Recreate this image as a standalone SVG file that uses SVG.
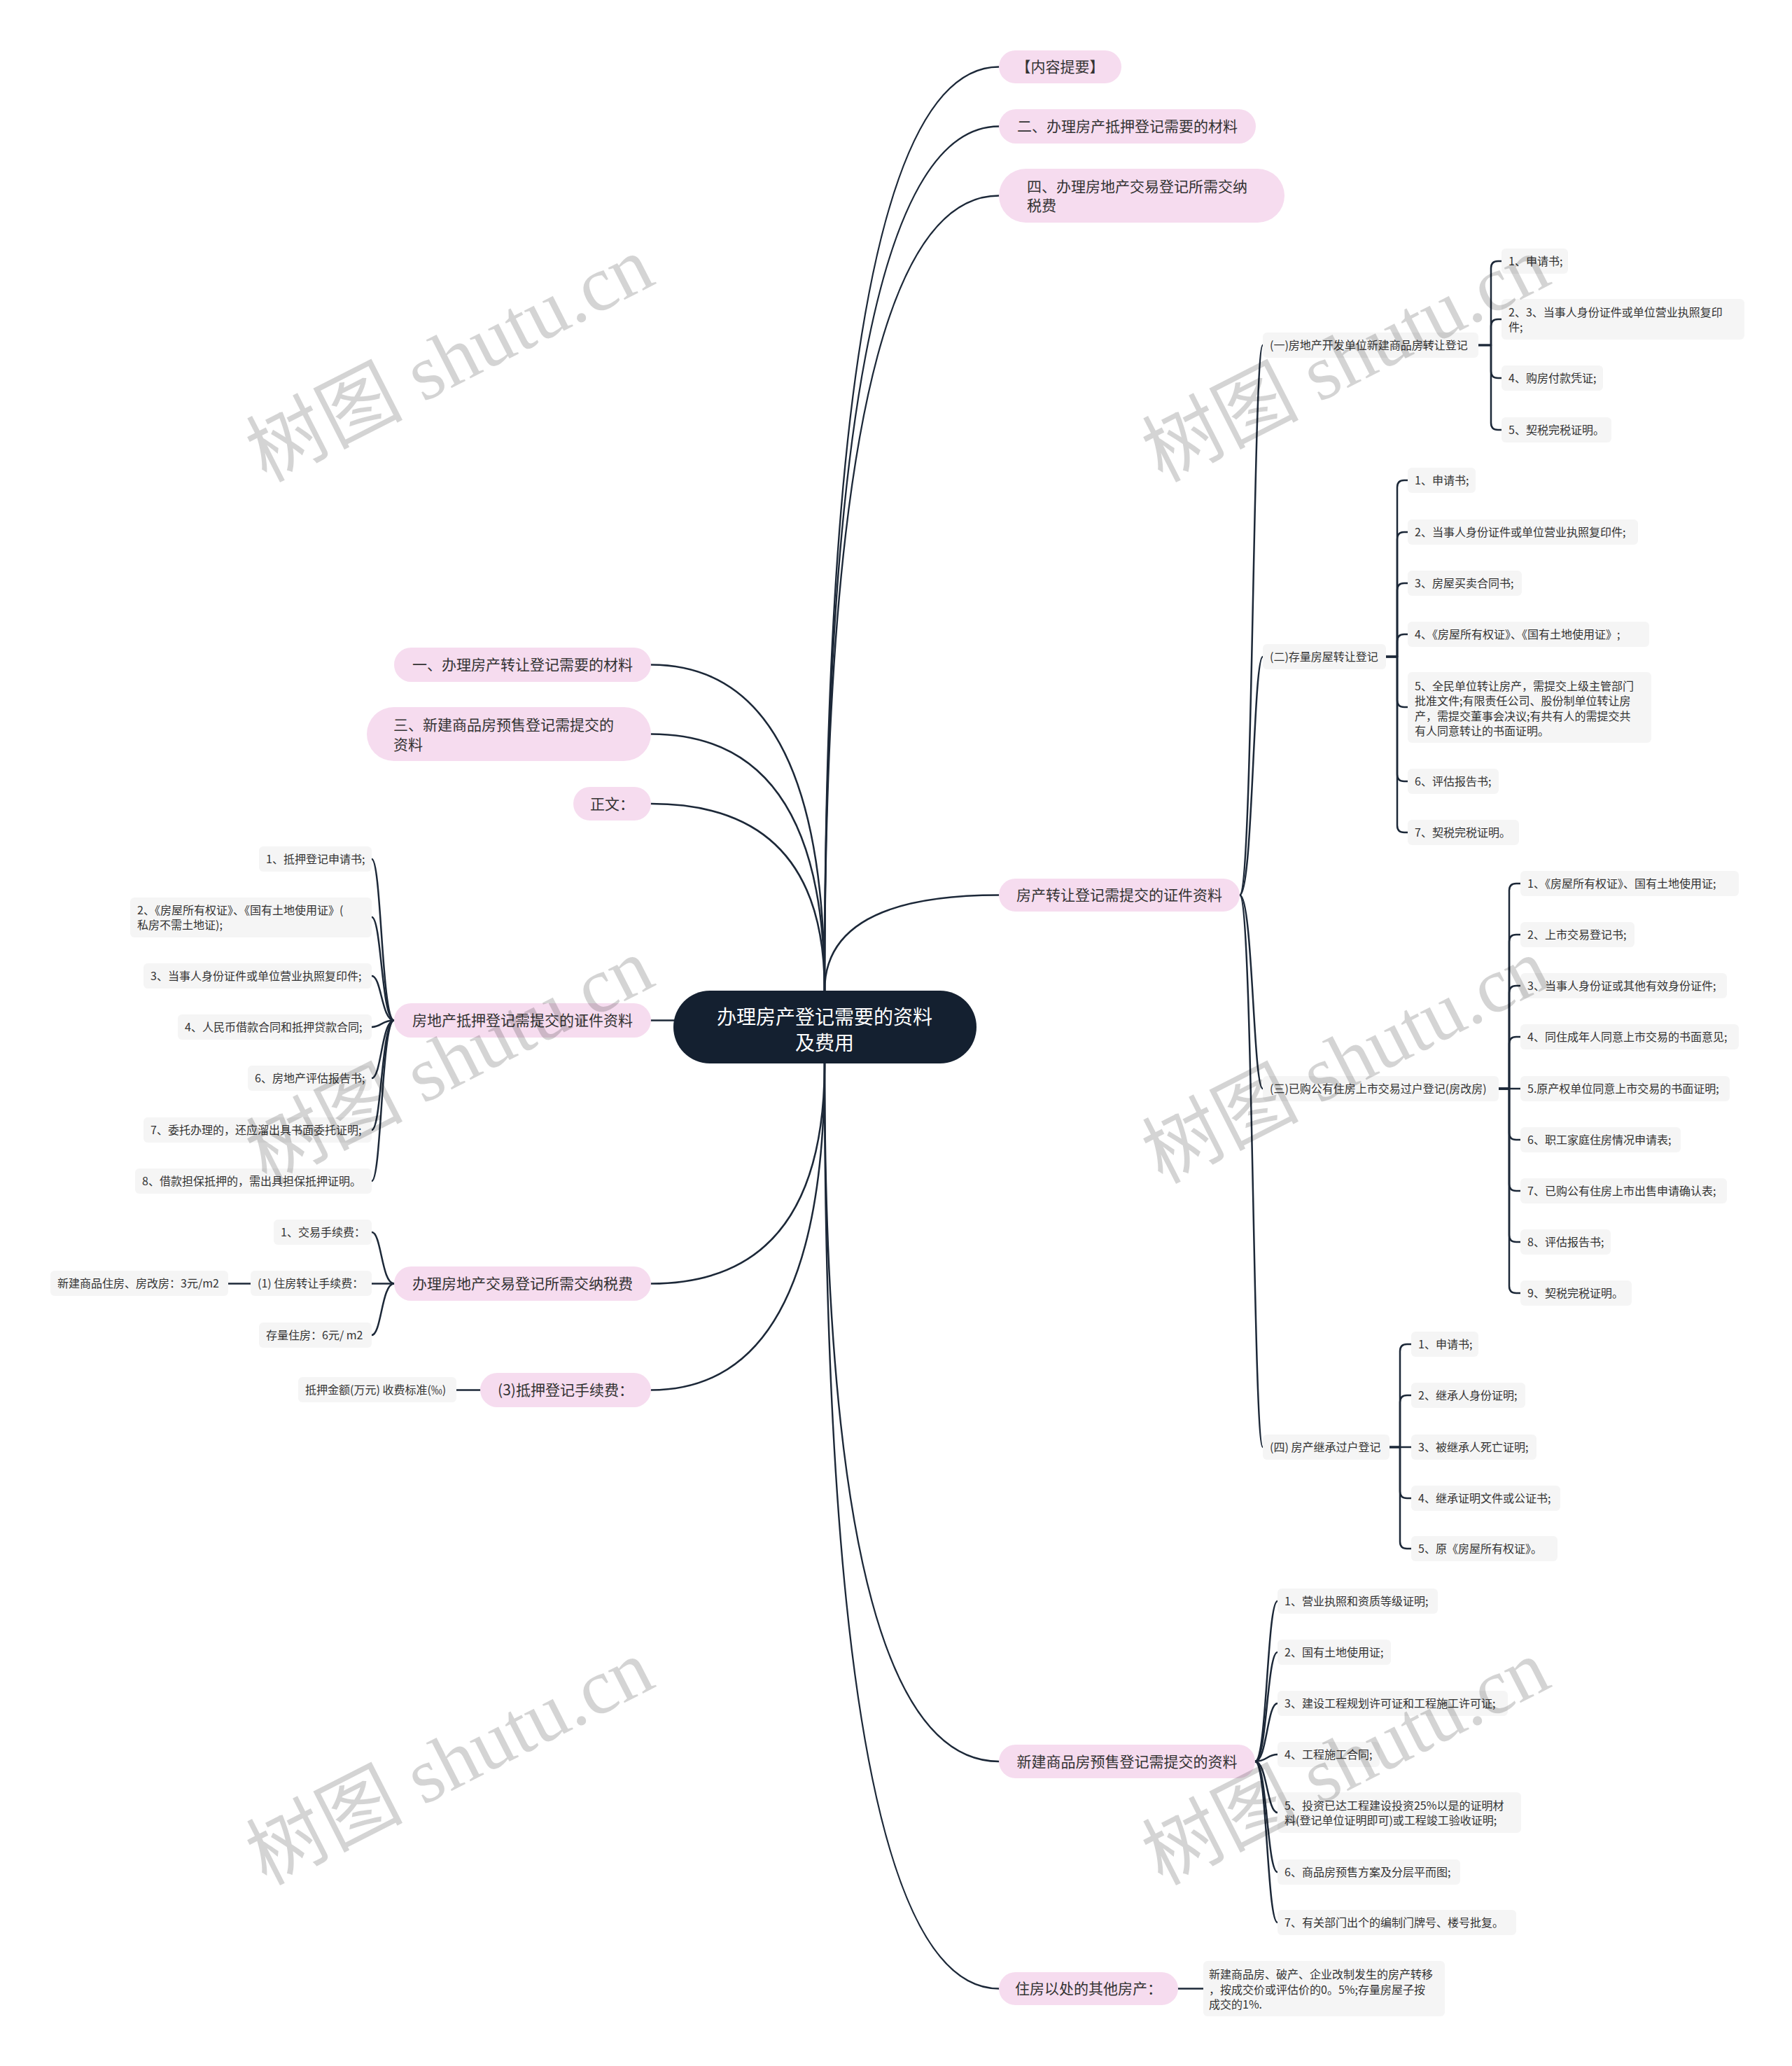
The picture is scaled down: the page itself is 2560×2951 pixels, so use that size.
<svg xmlns="http://www.w3.org/2000/svg" width="2560" height="2951" viewBox="0 0 2560 2951">
<style>
text{font-family:"Noto Sans CJK SC","Noto Sans",sans-serif;fill:#333}
.pk{fill:#f6dcef}
.lf{fill:#f5f5f5}
.t21{font-size:21px}
.t16{font-size:16px}
.mid{text-anchor:middle}
.c{fill:none;stroke:#1c2838;stroke-width:2.5;stroke-linecap:round;stroke-linejoin:round}
.rt{fill:#fff;font-size:28px;text-anchor:middle}
.wm{font-family:"Liberation Serif","Noto Sans CJK SC",serif;font-size:112px;fill:#000;fill-opacity:0.17;text-anchor:middle}
</style>
<rect width="2560" height="2951" fill="#fff"/>
<g id="connectors">
<path class="c" d="M1178,1415 Q1178,95.5 1427,95.5"/>
<path class="c" d="M1178,1415 Q1178,180.5 1427,180.5"/>
<path class="c" d="M1178,1415 Q1178,279.5 1427,279.5"/>
<path class="c" d="M1178,1415 Q1178,1278.5 1427,1278.5"/>
<path class="c" d="M1178,1415 Q1178,949.5 930,949.5"/>
<path class="c" d="M1178,1415 Q1178,1048.5 930,1048.5"/>
<path class="c" d="M1178,1415 Q1178,1148 930,1148"/>
<path class="c" d="M975,1457.5 H930"/>
<path class="c" d="M1178,1519 Q1178,1833.5 930,1833.5"/>
<path class="c" d="M1178,1519 Q1178,1985.5 930,1985.5"/>
<path class="c" d="M1178,1519 Q1178,2516 1427,2516"/>
<path class="c" d="M1178,1519 Q1178,2840.5 1427,2840.5"/>
<path class="c" d="M1771,1278.5 C1790,1278.5 1790,493 1804,493"/>
<path class="c" d="M1771,1278.5 C1790,1278.5 1790,938 1804,938"/>
<path class="c" d="M1771,1278.5 C1790,1278.5 1790,1555 1804,1555"/>
<path class="c" d="M1771,1278.5 C1790,1278.5 1790,2067 1804,2067"/>
<path class="c" d="M2112,493 H2130 V383 Q2130,373 2140,373 H2145"/>
<path class="c" d="M2112,493 H2130 V466 Q2130,456 2140,456 H2145"/>
<path class="c" d="M2112,493 H2130 V530 Q2130,540 2140,540 H2145"/>
<path class="c" d="M2112,493 H2130 V604 Q2130,614 2140,614 H2145"/>
<path class="c" d="M1980,938 H1996 V696 Q1996,686 2006,686 H2011"/>
<path class="c" d="M1980,938 H1996 V770 Q1996,760 2006,760 H2011"/>
<path class="c" d="M1980,938 H1996 V843 Q1996,833 2006,833 H2011"/>
<path class="c" d="M1980,938 H1996 V916 Q1996,906 2006,906 H2011"/>
<path class="c" d="M1980,938 H1996 V1000 Q1996,1010 2006,1010 H2011"/>
<path class="c" d="M1980,938 H1996 V1106 Q1996,1116 2006,1116 H2011"/>
<path class="c" d="M1980,938 H1996 V1179 Q1996,1189 2006,1189 H2011"/>
<path class="c" d="M2141,1555 H2156 V1272 Q2156,1262 2166,1262 H2172"/>
<path class="c" d="M2141,1555 H2156 V1345 Q2156,1335 2166,1335 H2172"/>
<path class="c" d="M2141,1555 H2156 V1418 Q2156,1408 2166,1408 H2172"/>
<path class="c" d="M2141,1555 H2156 V1491 Q2156,1481 2166,1481 H2172"/>
<path class="c" d="M2141,1555 H2172"/>
<path class="c" d="M2141,1555 H2156 V1618 Q2156,1628 2166,1628 H2172"/>
<path class="c" d="M2141,1555 H2156 V1691 Q2156,1701 2166,1701 H2172"/>
<path class="c" d="M2141,1555 H2156 V1764 Q2156,1774 2166,1774 H2172"/>
<path class="c" d="M2141,1555 H2156 V1837 Q2156,1847 2166,1847 H2172"/>
<path class="c" d="M1985,2067 H2000 V1930 Q2000,1920 2010,1920 H2016"/>
<path class="c" d="M1985,2067 H2000 V2003 Q2000,1993 2010,1993 H2016"/>
<path class="c" d="M1985,2067 H2016"/>
<path class="c" d="M1985,2067 H2000 V2130 Q2000,2140 2010,2140 H2016"/>
<path class="c" d="M1985,2067 H2000 V2202 Q2000,2212 2010,2212 H2016"/>
<path class="c" d="M1793,2516 C1810,2516 1810,2287 1825,2287"/>
<path class="c" d="M1793,2516 C1810,2516 1810,2360 1825,2360"/>
<path class="c" d="M1793,2516 C1810,2516 1810,2433 1825,2433"/>
<path class="c" d="M1793,2516 C1810,2516 1810,2506 1825,2506"/>
<path class="c" d="M1793,2516 C1810,2516 1810,2589 1825,2589"/>
<path class="c" d="M1793,2516 C1810,2516 1810,2674 1825,2674"/>
<path class="c" d="M1793,2516 C1810,2516 1810,2746 1825,2746"/>
<path class="c" d="M1683,2840.5 H1719"/>
<path class="c" d="M563,1457.5 C545,1457.5 545,1227 531,1227"/>
<path class="c" d="M563,1457.5 C545,1457.5 545,1310 531,1310"/>
<path class="c" d="M563,1457.5 C545,1457.5 545,1394 531,1394"/>
<path class="c" d="M563,1457.5 C545,1457.5 545,1467 531,1467"/>
<path class="c" d="M563,1457.5 C545,1457.5 545,1540 531,1540"/>
<path class="c" d="M563,1457.5 C545,1457.5 545,1614 531,1614"/>
<path class="c" d="M563,1457.5 C545,1457.5 545,1687 531,1687"/>
<path class="c" d="M563,1833.5 C545,1833.5 545,1760 531,1760"/>
<path class="c" d="M563,1833.5 H531"/>
<path class="c" d="M563,1833.5 C545,1833.5 545,1907 531,1907"/>
<path class="c" d="M358,1833.5 H326"/>
<path class="c" d="M686,1985.5 H652"/>
</g>

<g id="root">
<rect x="962" y="1415" width="433" height="104" rx="52" fill="#142030"/>
<text class="rt" x="1178" y="1463">办理房产登记需要的资料</text>
<text class="rt" x="1178" y="1500">及费用</text>
</g>

<g id="r1"><rect class="pk" x="1427" y="72" width="175" height="47" rx="23.5"/><text class="t21 mid" x="1514.5" y="103">【内容提要】</text></g>
<g id="r2"><rect class="pk" x="1427" y="156" width="367" height="49" rx="24.5"/><text class="t21 mid" x="1610.5" y="188">二、办理房产抵押登记需要的材料</text></g>
<g id="r3"><rect class="pk" x="1427" y="241" width="408" height="77" rx="38.5"/><text class="t21" x="1467" y="274">四、办理房地产交易登记所需交纳</text><text class="t21" x="1467" y="300.5">税费</text></g>
<g id="r4"><rect class="pk" x="1427" y="1255" width="344" height="47" rx="23.5"/><text class="t21 mid" x="1599" y="1286">房产转让登记需提交的证件资料</text></g>
<g id="r5"><rect class="pk" x="1427" y="2492" width="366" height="48" rx="24"/><text class="t21 mid" x="1610" y="2523.5">新建商品房预售登记需提交的资料</text></g>
<g id="r6"><rect class="pk" x="1427" y="2817" width="256" height="47" rx="23.5"/><text class="t21 mid" x="1555" y="2848">住房以处的其他房产：</text></g>

<g id="l1"><rect class="pk" x="563" y="925" width="367" height="49" rx="24.5"/><text class="t21 mid" x="746.5" y="957">一、办理房产转让登记需要的材料</text></g>
<g id="l2"><rect class="pk" x="524" y="1010" width="406" height="77" rx="38.5"/><text class="t21" x="562" y="1042.5">三、新建商品房预售登记需提交的</text><text class="t21" x="562" y="1070.5">资料</text></g>
<g id="l3"><rect class="pk" x="819" y="1124" width="111" height="48" rx="24"/><text class="t21 mid" x="874.5" y="1155.5">正文：</text></g>
<g id="l4"><rect class="pk" x="563" y="1433" width="367" height="49" rx="24.5"/><text class="t21 mid" x="746.5" y="1465">房地产抵押登记需提交的证件资料</text></g>
<g id="l5"><rect class="pk" x="563" y="1809" width="367" height="49" rx="24.5"/><text class="t21 mid" x="746.5" y="1841">办理房地产交易登记所需交纳税费</text></g>
<g id="l6"><rect class="pk" x="686" y="1961" width="244" height="49" rx="24.5"/><text class="t21 mid" x="808" y="1993">(3)抵押登记手续费：</text></g>

<g id="s1"><rect class="lf" x="1804" y="475" width="308" height="36" rx="6"/><text class="t16" x="1814" y="499">(一)房地产开发单位新建商品房转让登记</text></g>
<g id="s2"><rect class="lf" x="1804" y="920" width="176" height="36" rx="6"/><text class="t16" x="1814" y="944">(二)存量房屋转让登记</text></g>
<g id="s3"><rect class="lf" x="1804" y="1537" width="337" height="36" rx="6"/><text class="t16" x="1814" y="1561">(三)已购公有住房上市交易过户登记(房改房)</text></g>
<g id="s4"><rect class="lf" x="1804" y="2049" width="181" height="36" rx="6"/><text class="t16" x="1814" y="2073">(四) 房产继承过户登记</text></g>

<g id="a1"><rect class="lf" x="2145" y="355" width="95" height="36" rx="6"/><text class="t16" x="2155" y="379">1、申请书;</text></g>
<g id="a2"><rect class="lf" x="2145" y="427" width="347" height="58" rx="6"/><text class="t16" x="2155" y="452">2、3、当事人身份证件或单位营业执照复印</text><text class="t16" x="2155" y="473">件;</text></g>
<g id="a3"><rect class="lf" x="2145" y="522" width="145" height="36" rx="6"/><text class="t16" x="2155" y="546">4、购房付款凭证;</text></g>
<g id="a4"><rect class="lf" x="2145" y="596" width="157" height="36" rx="6"/><text class="t16" x="2155" y="620">5、契税完税证明。</text></g>

<g id="b1"><rect class="lf" x="2011" y="668" width="97" height="36" rx="6"/><text class="t16" x="2021" y="692">1、申请书;</text></g>
<g id="b2"><rect class="lf" x="2011" y="742" width="329" height="36" rx="6"/><text class="t16" x="2021" y="766">2、当事人身份证件或单位营业执照复印件;</text></g>
<g id="b3"><rect class="lf" x="2011" y="815" width="163" height="36" rx="6"/><text class="t16" x="2021" y="839">3、房屋买卖合同书;</text></g>
<g id="b4"><rect class="lf" x="2011" y="888" width="345" height="36" rx="6"/><text class="t16" x="2021" y="912">4、《房屋所有权证》、《国有土地使用证》;</text></g>
<g id="b5"><rect class="lf" x="2011" y="960" width="348" height="101" rx="6"/><text class="t16" x="2021" y="986">5、全民单位转让房产，需提交上级主管部门</text><text class="t16" x="2021" y="1007">批准文件;有限责任公司、股份制单位转让房</text><text class="t16" x="2021" y="1029">产，需提交董事会决议;有共有人的需提交共</text><text class="t16" x="2021" y="1050">有人同意转让的书面证明。</text></g>
<g id="b6"><rect class="lf" x="2011" y="1098" width="130" height="36" rx="6"/><text class="t16" x="2021" y="1122">6、评估报告书;</text></g>
<g id="b7"><rect class="lf" x="2011" y="1171" width="159" height="36" rx="6"/><text class="t16" x="2021" y="1195">7、契税完税证明。</text></g>

<g id="c1"><rect class="lf" x="2172" y="1244" width="312" height="36" rx="6"/><text class="t16" x="2182" y="1268">1、《房屋所有权证》、国有土地使用证;</text></g>
<g id="c2"><rect class="lf" x="2172" y="1317" width="163" height="36" rx="6"/><text class="t16" x="2182" y="1341">2、上市交易登记书;</text></g>
<g id="c3"><rect class="lf" x="2172" y="1390" width="295" height="36" rx="6"/><text class="t16" x="2182" y="1414">3、当事人身份证或其他有效身份证件;</text></g>
<g id="c4"><rect class="lf" x="2172" y="1463" width="312" height="36" rx="6"/><text class="t16" x="2182" y="1487">4、同住成年人同意上市交易的书面意见;</text></g>
<g id="c5"><rect class="lf" x="2172" y="1537" width="299" height="36" rx="6"/><text class="t16" x="2182" y="1561">5.原产权单位同意上市交易的书面证明;</text></g>
<g id="c6"><rect class="lf" x="2172" y="1610" width="229" height="36" rx="6"/><text class="t16" x="2182" y="1634">6、职工家庭住房情况申请表;</text></g>
<g id="c7"><rect class="lf" x="2172" y="1683" width="295" height="36" rx="6"/><text class="t16" x="2182" y="1707">7、已购公有住房上市出售申请确认表;</text></g>
<g id="c8"><rect class="lf" x="2172" y="1756" width="129" height="36" rx="6"/><text class="t16" x="2182" y="1780">8、评估报告书;</text></g>
<g id="c9"><rect class="lf" x="2172" y="1829" width="159" height="36" rx="6"/><text class="t16" x="2182" y="1853">9、契税完税证明。</text></g>

<g id="d1"><rect class="lf" x="2016" y="1902" width="96" height="36" rx="6"/><text class="t16" x="2026" y="1926">1、申请书;</text></g>
<g id="d2"><rect class="lf" x="2016" y="1975" width="163" height="36" rx="6"/><text class="t16" x="2026" y="1999">2、继承人身份证明;</text></g>
<g id="d3"><rect class="lf" x="2016" y="2049" width="179" height="36" rx="6"/><text class="t16" x="2026" y="2073">3、被继承人死亡证明;</text></g>
<g id="d4"><rect class="lf" x="2016" y="2122" width="213" height="36" rx="6"/><text class="t16" x="2026" y="2146">4、继承证明文件或公证书;</text></g>
<g id="d5"><rect class="lf" x="2016" y="2194" width="209" height="36" rx="6"/><text class="t16" x="2026" y="2218">5、原《房屋所有权证》。</text></g>

<g id="e1"><rect class="lf" x="1825" y="2269" width="229" height="36" rx="6"/><text class="t16" x="1835" y="2293">1、营业执照和资质等级证明;</text></g>
<g id="e2"><rect class="lf" x="1825" y="2342" width="162" height="36" rx="6"/><text class="t16" x="1835" y="2366">2、国有土地使用证;</text></g>
<g id="e3"><rect class="lf" x="1825" y="2415" width="329" height="36" rx="6"/><text class="t16" x="1835" y="2439">3、建设工程规划许可证和工程施工许可证;</text></g>
<g id="e4"><rect class="lf" x="1825" y="2488" width="146" height="36" rx="6"/><text class="t16" x="1835" y="2512">4、工程施工合同;</text></g>
<g id="e5"><rect class="lf" x="1825" y="2560" width="348" height="58" rx="6"/><text class="t16" x="1835" y="2585">5、投资已达工程建设投资25%以是的证明材</text><text class="t16" x="1835" y="2606">料(登记单位证明即可)或工程竣工验收证明;</text></g>
<g id="e6"><rect class="lf" x="1825" y="2656" width="261" height="36" rx="6"/><text class="t16" x="1835" y="2680">6、商品房预售方案及分层平而图;</text></g>
<g id="e7"><rect class="lf" x="1825" y="2728" width="341" height="36" rx="6"/><text class="t16" x="1835" y="2752">7、有关部门出个的编制门牌号、楼号批复。</text></g>

<g id="f1"><rect class="lf" x="1719" y="2801" width="345" height="79" rx="6"/><text class="t16" x="1727" y="2826">新建商品房、破产、企业改制发生的房产转移</text><text class="t16" x="1727" y="2848">，按成交价或评估价的0。5%;存量房屋子按</text><text class="t16" x="1727" y="2869">成交的1%.</text></g>

<g id="m1"><rect class="lf" x="370" y="1209" width="161" height="36" rx="6"/><text class="t16" x="380" y="1233">1、抵押登记申请书;</text></g>
<g id="m2"><rect class="lf" x="186" y="1282" width="345" height="57" rx="6"/><text class="t16" x="196" y="1305.5">2、《房屋所有权证》、《国有土地使用证》(</text><text class="t16" x="196" y="1326.5">私房不需土地证);</text></g>
<g id="m3"><rect class="lf" x="205" y="1376" width="326" height="36" rx="6"/><text class="t16" x="215" y="1400">3、当事人身份证件或单位营业执照复印件;</text></g>
<g id="m4"><rect class="lf" x="254" y="1449" width="277" height="36" rx="6"/><text class="t16" x="264" y="1473">4、人民币借款合同和抵押贷款合同;</text></g>
<g id="m5"><rect class="lf" x="354" y="1522" width="177" height="36" rx="6"/><text class="t16" x="364" y="1546">6、房地产评估报告书;</text></g>
<g id="m6"><rect class="lf" x="205" y="1596" width="326" height="36" rx="6"/><text class="t16" x="215" y="1620">7、委托办理的，还应溜出具书面委托证明;</text></g>
<g id="m7"><rect class="lf" x="193" y="1669" width="338" height="36" rx="6"/><text class="t16" x="203" y="1693">8、借款担保抵押的，需出具担保抵押证明。</text></g>

<g id="t1"><rect class="lf" x="391" y="1742" width="140" height="36" rx="6"/><text class="t16" x="401" y="1766">1、交易手续费：</text></g>
<g id="t2"><rect class="lf" x="358" y="1815" width="173" height="36" rx="6"/><text class="t16" x="368" y="1839">(1) 住房转让手续费：</text></g>
<g id="t3"><rect class="lf" x="72" y="1815" width="254" height="36" rx="6"/><text class="t16" x="82" y="1839">新建商品住房、房改房：3元/m2</text></g>
<g id="t4"><rect class="lf" x="370" y="1889" width="161" height="36" rx="6"/><text class="t16" x="380" y="1913">存量住房：6元/ m2</text></g>
<g id="t5"><rect class="lf" x="426" y="1967" width="226" height="36" rx="6"/><text class="t16" x="436" y="1991">抵押金额(万元) 收费标准(‰)</text></g>

<g id="watermark">
<text class="wm" transform="translate(642,512) rotate(-27)" y="39">树图 shutu.cn</text>
<text class="wm" transform="translate(1922,512) rotate(-27)" y="39">树图 shutu.cn</text>
<text class="wm" transform="translate(642,1514) rotate(-27)" y="39">树图 shutu.cn</text>
<text class="wm" transform="translate(1922,1514) rotate(-27)" y="39">树图 shutu.cn</text>
<text class="wm" transform="translate(642,2516) rotate(-27)" y="39">树图 shutu.cn</text>
<text class="wm" transform="translate(1922,2516) rotate(-27)" y="39">树图 shutu.cn</text>
</g>
</svg>
